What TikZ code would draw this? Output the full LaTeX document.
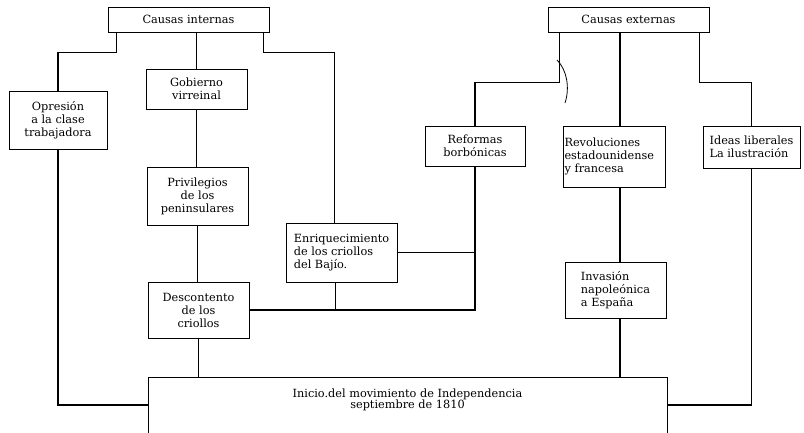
\documentclass[tikz,border=0pt]{standalone}
\usepackage{fontspec}
\setmainfont{DejaVu Serif}
\begin{document}
\begin{tikzpicture}[x=1pt,y=-1pt,
  box/.style={draw, line width=1pt, inner sep=1pt, align=center, font=\fontsize{11.3}{13}\selectfont},
  conn/.style={line width=1.1pt}]
\useasboundingbox[fill=white] (0,0) rectangle (804,432);
% top boxes
\node[box, minimum width=161pt, minimum height=25pt] (ci) at (188.5,19.5) {Causas internas};
\node[box, minimum width=161pt, minimum height=25pt] (ce) at (628.5,19.5) {Causas externas};
% internal causes
\node[box, minimum width=98pt, minimum height=58pt] (opr) at (58,120) {Opresión\\a la clase\\trabajadora};
\node[box, minimum width=101pt, minimum height=40pt] (gob) at (196.5,89) {Gobierno\\virreinal};
\node[box, minimum width=101pt, minimum height=58pt] (priv) at (197.5,196) {Privilegios\\de los\\peninsulares};
\node[box, minimum width=101pt, minimum height=56pt] (desc) at (198.5,310) {Descontento\\de los\\criollos};
\node[box, minimum width=111pt, minimum height=59pt, align=left] (enr) at (341.5,252.5) {Enriquecimiento\\de los criollos\\del Bajío.};
% external causes
\node[box, minimum width=100pt, minimum height=40pt] (ref) at (475,146) {Reformas\\borbónicas};
\node[box, minimum width=102pt, minimum height=61pt, text width=99pt, align=left] (rev) at (614,156.5) {Revoluciones\\estadounidense\\y francesa};
\node[box, minimum width=97pt, minimum height=42pt, align=left] (ideas) at (751.5,147) {Ideas liberales\\La ilustración};
\node[box, minimum width=101pt, minimum height=56pt, align=left] (inv) at (615.5,290) {Invasión\\napoleónica\\a España};
% bottom box
\node[box, minimum width=519pt, minimum height=56pt, font=\fontsize{11.3}{11.5}\selectfont] (big) at (407.5,405) {Inicio.del movimiento de Independencia\\septiembre de 1810\\[1pt]};
% connectors from Causas internas
\draw[conn] ([xshift=9pt]ci.south west) -- ++(0,20) -| (opr.north);
\draw[conn] (gob.north |- ci.south) -- (gob.north);
\draw[conn] ([xshift=-6pt]ci.south east) -- ++(0,20) -| ([xshift=-7pt]enr.north);
\draw[conn] (gob.south) -- (gob.south |- priv.north);
\draw[conn] (priv.south) -- (priv.south |- desc.north);
\draw[conn] (desc.south) -- (desc.south |- big.north);
\draw[conn] (opr.south) |- (big.west);
% connectors from Causas externas
\draw[conn] ([xshift=12pt]ce.south west) -- ++(0,50) -| (ref.north);
\draw[conn] ([xshift=6pt]rev.north |- ce.south) -- ([xshift=6pt]rev.north);
\draw[conn] ([xshift=-10pt]ce.south east) -- ++(0,50) -| (ideas.north);
\draw[conn] ([xshift=6pt]rev.south) -- ([xshift=6pt]rev.south |- inv.north);
\draw[conn] ([xshift=4.5pt]inv.south) -- ([xshift=4.5pt]inv.south |- big.north);
\draw[conn] (ideas.south) |- (big.east);
% joins
\draw[conn] (ref.south) |- (desc.east);
\draw[conn] ([xshift=-6pt]enr.south) -- ([xshift=-6pt]enr.south |- desc.east);
\draw[conn] (enr.east) -- (enr.east -| ref.south);
% hand-drawn mark
\draw[line width=0.8pt] (557,60) .. controls (567,70) and (570,88) .. (565,103);
\end{tikzpicture}
\end{document}
